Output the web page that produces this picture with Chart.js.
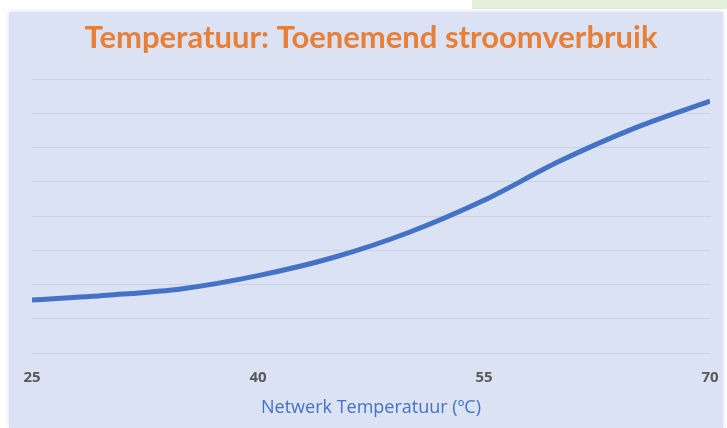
<!DOCTYPE html>
<html>
<head>
<meta charset="utf-8">
<script src="https://cdn.jsdelivr.net/npm/chart.js@4"></script>
<style>
  html, body { margin: 0; padding: 0; background: #ffffff; }
  #wrap { position: relative; width: 727px; height: 428px; overflow: hidden; }
  #green { position: absolute; left: 472px; top: 0; width: 255px; height: 9px; background: #e2efd9; }
  #panel { position: absolute; left: 9px; top: 12px; width: 714px; height: 416px; background: #dbe2f3;
           box-shadow: 0 0 4px rgba(200, 210, 230, 0.8); }
  #chart { position: absolute; left: 0; top: 0; }
</style>
</head>
<body>
<div id="wrap">
  <div id="green"></div>
  <div id="panel"></div>
  <canvas id="chart" width="727" height="428"></canvas>
</div>
<script>
// Data
const temperatures = [25, 30, 35, 40, 45, 50, 55, 60, 65, 70];
const consumption = [1.55, 1.69, 1.88, 2.26, 2.79, 3.52, 4.46, 5.6, 6.57, 7.36];
const xTicks = [25, 40, 55, 70];

const titleText = "Temperatuur: Toenemend stroomverbruik";
const xTitle = "Netwerk Temperatuur (\u00baC)";

const points = temperatures.map((t, i) => ({ x: t, y: consumption[i] }));

new Chart(document.getElementById("chart"), {
    type: "line",
    data: {
        datasets: [{
            data: points,
            borderColor: "#4472c4",
            borderWidth: 5,
            pointRadius: 0,
            cubicInterpolationMode: "monotone",
            fill: false
        }]
    },
    options: {
        responsive: false,
        animation: false,
        layout: {
            padding: { left: 32, right: 17, top: 0, bottom: 0 }
        },
        plugins: {
            legend: { display: false },
            tooltip: { enabled: false },
            title: {
                display: true,
                text: titleText,
                color: "#e97f36",
                font: { family: "Lato", size: 31, weight: "bold", lineHeight: 1.2 },
                padding: { top: 19, bottom: 23 }
            }
        },
        scales: {
            x: {
                type: "linear",
                min: 25,
                max: 70,
                afterBuildTicks: (axis) => {
                    axis.ticks = xTicks.map(v => ({ value: v }));
                },
                afterFit: (axis) => {
                    axis.paddingLeft = 0;
                    axis.paddingRight = 0;
                },
                grid: { display: false, drawTicks: false },
                border: { display: false },
                ticks: {
                    color: "#595959",
                    font: { family: "Open Sans", size: 15, weight: "bold", lineHeight: 1.2 },
                    padding: 16,
                    maxRotation: 0
                },
                title: {
                    display: true,
                    text: xTitle,
                    color: "#4472c4",
                    font: { family: "Open Sans", size: 18, lineHeight: 1 },
                    padding: { top: -4, bottom: 11 }
                }
            },
            y: {
                min: 0,
                max: 8,
                ticks: { display: false, stepSize: 1 },
                grid: { color: "rgba(185, 192, 205, 0.45)", lineWidth: 1, drawTicks: false },
                border: { display: false },
                afterFit: (axis) => { axis.width = 0; }
            }
        }
    }
});
</script>
</body>
</html>
